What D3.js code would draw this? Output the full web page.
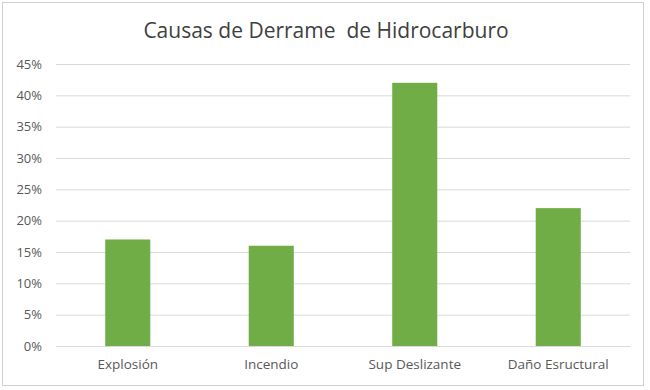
<!DOCTYPE html>
<html>
<head>
<meta charset="utf-8">
<script src="https://cdn.jsdelivr.net/npm/d3@7"></script>
<style>
  body { margin: 0; background: #fff; }
  text { font-family: "Open Sans", sans-serif; }
</style>
</head>
<body>
<svg id="chart" width="650" height="390"></svg>
<script>
"use strict";

var categories = ["Explosión", "Incendio", "Sup Deslizante", "Daño Esructural"]
var values = [0.17, 0.16, 0.42, 0.22]
var yTicks = [0, 0.05, 0.10, 0.15, 0.20, 0.25, 0.30, 0.35, 0.40, 0.45]
var title = "Causas de Derrame  de Hidrocarburo"

var svg = d3.select("#chart")
var margin = {top: 64, right: 20, bottom: 44, left: 56}
var width = 630 - margin.left
var height = 346 - margin.top

// cadre du graphique
svg.append("rect")
    .attr("x", 2.5).attr("y", 2.5)
    .attr("width", 641).attr("height", 383)
    .attr("fill", "#fff")
    .attr("stroke", "#d0d0d0")

svg.append("text")
    .attr("x", 326).attr("y", 38)
    .attr("text-anchor", "middle")
    .attr("font-size", 21)
    .attr("fill", "#404040")
    .style("white-space", "pre")
    .text(title)

var g = svg.append("g")
    .attr("transform", "translate(" + margin.left + "," + margin.top + ")")

var x = d3.scaleBand().domain(categories).range([0, width]).paddingInner(0.686).paddingOuter(0.343)
var y = d3.scaleLinear().domain([0, 0.45]).range([height, 0])

// lignes de grille
var yAxis = d3.axisLeft(y)
    .tickValues(yTicks)
    .tickSize(-width)
    .tickPadding(14)
    .tickFormat(d3.format(".0%"))

g.append("g")
    .call(yAxis)
    .call(a => a.select(".domain").remove())
    .call(a => a.selectAll(".tick line").attr("stroke", "#d9d9d9"))
    .call(a => a.selectAll(".tick text")
        .attr("fill", "#595959").attr("font-size", 13)
        .attr("font-family", "'Open Sans', sans-serif"))

g.selectAll(".bar")
    .data(values)
    .enter().append("rect")
    .attr("class", "bar")
    .attr("x", (d, i) => x(categories[i]))
    .attr("y", d => y(d))
    .attr("width", x.bandwidth())
    .attr("height", d => height - y(d))
    .attr("fill", "#70ad47")

var xAxis = d3.axisBottom(x).tickSize(0).tickPadding(13)
g.append("g")
    .attr("transform", "translate(0," + height + ")")
    .call(xAxis)
    .call(a => a.select(".domain").attr("stroke", "#d9d9d9"))
    .call(a => a.selectAll(".tick text")
        .attr("fill", "#595959").attr("font-size", 13.5)
        .attr("font-family", "'Open Sans', sans-serif"))
</script>
</body>
</html>
